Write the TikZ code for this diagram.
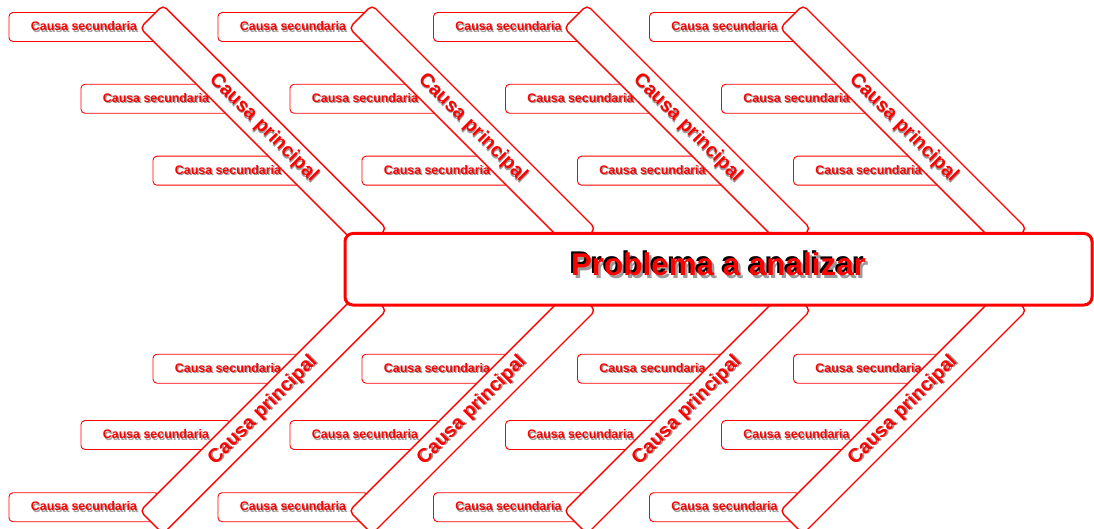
\documentclass[tikz,border=0pt]{standalone}
\usepackage{fontspec}
\setmainfont{Liberation Sans}
\definecolor{shade}{RGB}{155,155,155}
\definecolor{fishred}{RGB}{255,0,0}

% red text with a grey drop shadow
\newcommand{\dropword}[1]{\leavevmode\rlap{\hspace*{1.3pt}\raisebox{-1.3pt}{\textcolor{shade}{#1}}}\textcolor{fishred}{#1}}
% red title with a black edge and a grey drop shadow
\newcommand{\titleword}[1]{\leavevmode\rlap{\hspace*{2.5pt}\raisebox{-3pt}{\textcolor{shade}{#1}}}\rlap{\hspace*{-2pt}\raisebox{1.5pt}{\textcolor{black}{#1}}}\textcolor{fishred}{#1}}

\tikzset{
  secbox/.style={draw=fishred, line width=0.9pt, rounded corners=4pt, fill=white,
    minimum width=150pt, minimum height=29pt, inner sep=0pt,
    font=\bfseries\fontsize{12.4}{14}\selectfont},
  bonebox/.style={draw=fishred, line width=1.4pt, rounded corners=5pt, fill=white,
    minimum width=316pt, minimum height=32.5pt, inner sep=0pt,
    font=\bfseries\fontsize{19.5}{22}\selectfont},
  headbox/.style={draw=fishred, line width=3pt, rounded corners=8pt, fill=white,
    minimum width=747pt, minimum height=71.5pt, inner sep=0pt},
  headtext/.style={font=\bfseries\fontsize{31.4}{36}\selectfont, inner sep=0pt}
}

\begin{document}
\begin{tikzpicture}[x=1pt,y=-1pt]
\useasboundingbox (0,0) rectangle (1094,529);

% secondary causes, upper and lower half
\foreach \off [count=\c] in {0,209,424.5,640.5}{
  \node[secbox] (su1\c) at (84+\off,27)    {\dropword{Causa secundaria}};
  \node[secbox] (su2\c) at (156+\off,98.8) {\dropword{Causa secundaria}};
  \node[secbox] (su3\c) at (228+\off,170.7){\dropword{Causa secundaria}};
  \node[secbox] (sl1\c) at (228+\off,368.7){\dropword{Causa secundaria}};
  \node[secbox] (sl2\c) at (156+\off,435)  {\dropword{Causa secundaria}};
  \node[secbox] (sl3\c) at (84+\off,507.2) {\dropword{Causa secundaria}};
}

% main causes (the bones)
\foreach \off [count=\c] in {0,209,424,640}{
  \node[bonebox, rotate=-45] (bu\c) at (263.3+\off,128.3) {\dropword{Causa principal}};
  \node[bonebox, rotate=45]  (bl\c) at (263.3+\off,410.7) {\dropword{Causa principal}};
}

% the problem (the head / spine)
\node[headbox] (head) at (718.5,269.25) {};
\node[headtext, anchor=base] (headlabel) at (718.5,275) {\titleword{Problema a analizar}};
\end{tikzpicture}
\end{document}
